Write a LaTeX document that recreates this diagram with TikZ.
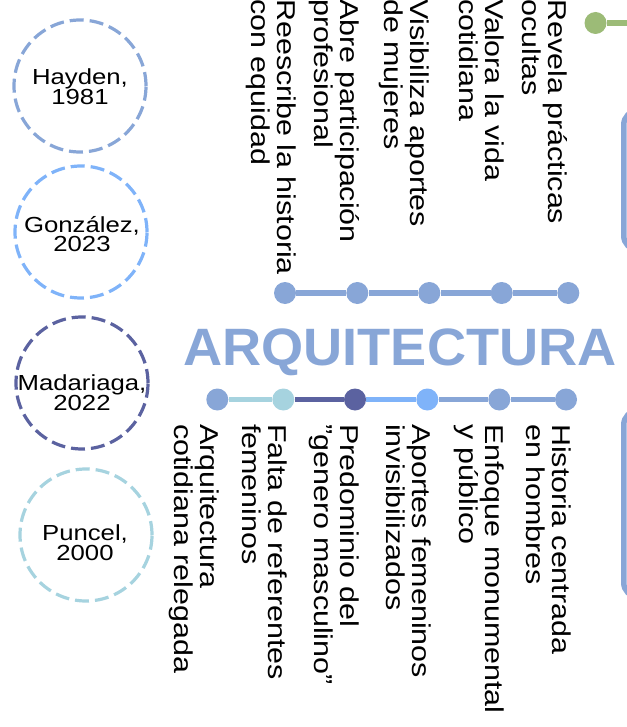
\documentclass[tikz,border=0pt]{standalone}
\usepackage{fontspec}
\setmainfont{Liberation Sans}
\newfontfamily\wfont[FakeStretch=1.18]{Liberation Sans}
\newfontfamily\tfont[FakeStretch=1.03]{Liberation Sans}
\usetikzlibrary{backgrounds}
\definecolor{cmed}{HTML}{88A6D7}
\definecolor{clight}{HTML}{7FB3F9}
\definecolor{cdark}{HTML}{5B62A0}
\definecolor{cteal}{HTML}{A6D3DF}
\definecolor{cgreen}{HTML}{9CBB77}
\newcommand\ltwo[2]{\vtop{\baselineskip=25.5pt\lineskiplimit=-100pt\hbox{#1}\hbox{#2}}}
\newcommand\ctwo[2]{\vtop{\baselineskip=20pt\lineskiplimit=-100pt\halign{\hfil##\hfil\cr#1\cr#2\cr}}}
\tikzset{
  refcirc/.style={circle, draw=#1, dash pattern=on 14pt off 6pt, line width=3.2pt, inner sep=0pt, minimum size=132pt},
  circtext/.style={font=\wfont\fontsize{21.8}{20}\selectfont, inner sep=0pt, anchor=base},
  lab/.style={font=\wfont\fontsize{25.8}{25.5}\selectfont, inner sep=0pt, anchor=base west, rotate=-90},
  dot/.style={circle, fill=#1, minimum size=22pt, inner sep=0pt},
  conn/.style={draw=#1, line width=5.5pt},
  sidebox/.style={draw=cmed, line width=5.5pt, rounded corners=14pt, anchor=north west, inner sep=0pt}
}
\begin{document}
\begin{tikzpicture}[x=1pt,y=-1pt]
\useasboundingbox (0,0) rectangle (626,727);

% reference circles
\node[refcirc=cmed]   (hayden)  at (80,86)  {};
\node[refcirc=clight] (gonz)    at (81,232) {};
\node[refcirc=cdark]  (madar)   at (82,383) {};
\node[refcirc=cteal]  (puncel)  at (86,535) {};
\node[circtext] (thayden) at (80,85)  {\ctwo{Hayden,}{1981}};
\node[circtext] (tgonz)   at (82,232) {\ctwo{González,}{2023}};
\node[circtext] (tmadar)  at (82,390) {\ctwo{Madariaga,}{2022}};
\node[circtext] (tpuncel) at (85,540) {\ctwo{Puncel,}{2000}};

% title
\node[font=\tfont\bfseries\fontsize{52.6}{60}\selectfont, text=cmed, anchor=base, inner sep=0pt] (title) at (400,365.7) {ARQUITECTURA};

% top row dots
\node[dot=cmed] (t1) at (285,293) {};
\node[dot=cmed] (t2) at (357.3,293) {};
\node[dot=cmed] (t3) at (429.3,293) {};
\node[dot=cmed] (t4) at (501.7,293) {};
\node[dot=cmed] (t5) at (568.3,293) {};

% bottom row dots
\node[dot=cmed]   (b1) at (217.3,399.5) {};
\node[dot=cteal]  (b2) at (283.3,399.5) {};
\node[dot=cdark]  (b3) at (355,399.5) {};
\node[dot=clight] (b4) at (427.3,399.5) {};
\node[dot=cmed]   (b5) at (499.3,399.5) {};
\node[dot=cmed]   (b6) at (566,399.5) {};

% green dot
\node[dot=cgreen] (g) at (595.5,23) {};
\coordinate (gend) at (640,23);

\begin{scope}[on background layer]
\draw[conn=cmed] (t1) -- (t2);
\draw[conn=cmed] (t2) -- (t3);
\draw[conn=cmed] (t3) -- (t4);
\draw[conn=cmed] (t4) -- (t5);
\draw[conn=cteal] (b1) -- (b2);
\draw[conn=cdark] (b2) -- (b3);
\draw[conn=clight] (b3) -- (b4);
\draw[conn=cmed] (b4) -- (b5);
\draw[conn=cmed] (b5) -- (b6);
\draw[conn=cgreen] (g) -- (gend);
\end{scope}

% top labels
\node[lab] (l1) at (277,-1) {\ltwo{Reescribe la historia}{con equidad}};
\node[lab] (l2) at (340,-1) {\ltwo{Abre participación}{profesional}};
\node[lab] (l3) at (410,-1) {\ltwo{Visibiliza aportes}{de mujeres}};
\node[lab] (l4) at (485,-1) {\ltwo{Valora la vida}{cotidiana}};
\node[lab] (l5) at (548,-1) {\ltwo{Revela prácticas}{ocultas}};

% bottom labels
\node[lab] (m1) at (200,424) {\ltwo{Arquitectura}{cotidiana relegada}};
\node[lab] (m2) at (268,424) {\ltwo{Falta de referentes}{femeninos}};
\node[lab] (m3) at (340,424) {\ltwo{Predominio del}{”genero masculino”}};
\node[lab] (m4) at (412,424) {\ltwo{Aportes femeninos}{invisibilizados}};
\node[lab] (m5) at (485,424) {\ltwo{Enfoque monumental}{y público}};
\node[lab] (m6) at (552,424) {\ltwo{Historia centrada}{en hombres}};

% side boxes (cut by the right edge)
\node[sidebox, minimum width=90pt, minimum height=139pt] (box1) at (621,108) {};
\node[sidebox, minimum width=90pt, minimum height=186pt] (box2) at (621,408) {};
\end{tikzpicture}
\end{document}
